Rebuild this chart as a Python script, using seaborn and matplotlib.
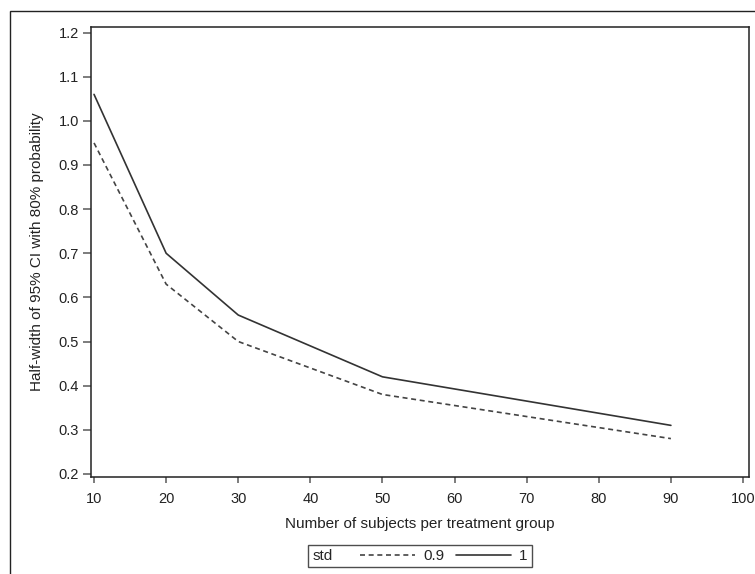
import matplotlib
matplotlib.use("Agg")
import matplotlib.pyplot as plt
from matplotlib.lines import Line2D
from matplotlib.patches import Rectangle
from matplotlib.offsetbox import HPacker
import seaborn as sns
import pandas as pd

# values
subjects = [10, 20, 30, 50, 90]
halfwidth_std09 = [0.95, 0.63, 0.50, 0.38, 0.28]
halfwidth_std1 = [1.06, 0.70, 0.56, 0.42, 0.31]
std_levels = ["0.9", "1"]

df = pd.DataFrame({
    "n": subjects * 2,
    "hw": halfwidth_std09 + halfwidth_std1,
    "std": [std_levels[0]] * len(subjects) + [std_levels[1]] * len(subjects),
})

sns.set_style("white")
plt.rcParams["font.family"] = ["Liberation Sans", "DejaVu Sans"]

W, H = 755, 574
fig = plt.figure(figsize=(W / 100, H / 100), dpi=100)
ax = fig.add_axes([91 / W, 1 - 477 / H, (749 - 91) / W, (477 - 27) / H])

line_col = "#333333"
sns.lineplot(data=df, x="n", y="hw", hue="std", style="std",
             palette={"0.9": "#444444", "1": line_col},
             dashes={"0.9": (3, 2.2), "1": ""},
             linewidth=1.2, legend=False, ax=ax)

ax.set_xlim(9.58, 100.83)
ax.set_ylim(0.193, 1.2127)
ax.set_xticks(range(10, 101, 10))
ax.set_yticks([0.2, 0.3, 0.4, 0.5, 0.6, 0.7, 0.8, 0.9, 1.0, 1.1, 1.2])
ax.set_yticklabels([f"{v:.1f}" for v in ax.get_yticks()])
ax.tick_params(axis="both", direction="out", width=1.2,
               color="#666666", labelsize=10.5, labelcolor="#222222",
               left=True, bottom=True)
ax.tick_params(axis="y", length=5.5, pad=3)
ax.tick_params(axis="x", length=4.5, pad=6)
for s in ax.spines.values():
    s.set_color("#222222")
    s.set_linewidth(1.1)

ax.set_xlabel("Number of subjects per treatment group", fontsize=11,
              color="#222222", labelpad=8)
ax.set_ylabel("Half-width of 95% CI with 80% probability", fontsize=11,
              color="#222222", labelpad=11)

# legend: title placed on the left, like the reference
handles = [
    Line2D([], [], color="#444444", lw=1.2, dashes=(3, 2.2)),
    Line2D([], [], color=line_col, lw=1.2),
]
leg = fig.legend(handles, std_levels, title="std", ncol=2, loc="center",
                 bbox_to_anchor=(420 / W, 1 - 556 / H), fontsize=11,
                 title_fontsize=11, frameon=True, fancybox=False,
                 handlelength=3.6, handletextpad=0.5, columnspacing=0.8,
                 borderpad=0.2, borderaxespad=0)
leg.get_frame().set_edgecolor("#222222")
leg.get_frame().set_linewidth(1.0)
fs = 11 * 100 / 72
leg._legend_box = HPacker(pad=0.2 * fs, sep=20, align="center",
                          children=[leg._legend_title_box, leg._legend_handle_box])
leg._legend_box.set_figure(fig)
leg._legend_box.set_offset(leg._findoffset)

# outer frame of the graph area
fig.patches.append(Rectangle((10 / W, -0.1), 1.0, 1 - 11 / H + 0.1,
                             transform=fig.transFigure, fill=False,
                             edgecolor="#222222", linewidth=1.0))

fig.savefig("out.png", dpi=100)
